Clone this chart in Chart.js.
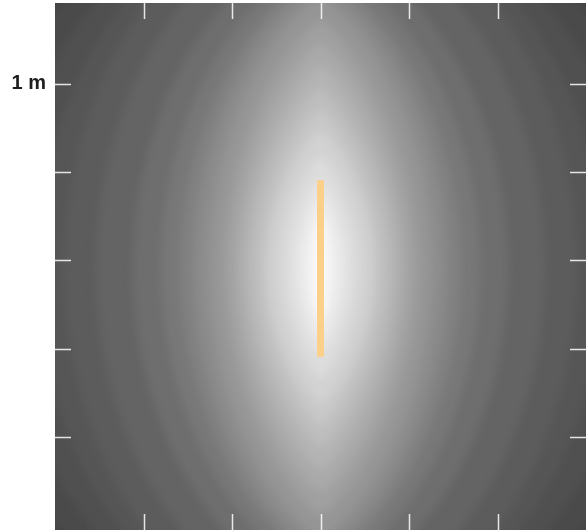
<!DOCTYPE html>
<html>
<head>
<meta charset="utf-8">
<script src="https://cdn.jsdelivr.net/npm/chart.js@4.4.0/dist/chart.umd.min.js"></script>
<style>
  html, body { margin: 0; padding: 0; background: #fff; }
  #wrap { width: 586px; height: 530px; }
</style>
</head>
<body>
<div id="wrap"><canvas id="mycanvas"></canvas></div>
<script>
// luminaire (orange bar), metres
var lampX = [0, 0];
var lampY = [0.455, -0.545];

// tick positions (m) and the only labelled tick
var tickValues = [-1, -0.5, 0, 0.5, 1];
var tickLabels = { 1: '1 m' };

// illuminance bands: grey level, half-width, half-height (m)
// and how pointed each band is at top/bottom (0.5 = ellipse, 1 = lens)
var fieldCenter = [0, -0.04];
var levelGray = [68, 74, 80, 86, 92, 100, 110, 120, 130, 140, 150, 160, 170, 180, 190, 200, 210, 220, 230, 240, 250];
var levelRx = [2.25, 2.0, 1.8, 1.6, 1.45, 1.27, 1.06, 0.9, 0.79, 0.71, 0.63, 0.55, 0.49, 0.44, 0.39, 0.33, 0.29, 0.22, 0.16, 0.1, 0.04];
var levelRy = [2.4, 2.2, 2.12, 2.08, 2.03, 1.95, 1.82, 1.72, 1.66, 1.6, 1.52, 1.4, 1.27, 1.15, 1.02, 0.9, 0.78, 0.64, 0.5, 0.38, 0.28];
var levelPoint = [0.5, 0.5, 0.5, 0.5, 0.5, 0.55, 0.6, 0.65, 0.7, 0.72, 0.75, 0.8, 0.8, 0.85, 0.85, 0.85, 0.85, 0.85, 0.85, 0.8, 0.7];

var fieldPlugin = {
  id: 'field',
  beforeDatasetsDraw: function(chart) {
    var ctx = chart.ctx, a = chart.chartArea;
    var xs = chart.scales.x, ys = chart.scales.y;
    var cx = xs.getPixelForValue(fieldCenter[0]);
    var cy = ys.getPixelForValue(fieldCenter[1]);
    var kx = xs.getPixelForValue(1) - xs.getPixelForValue(0);
    var ky = ys.getPixelForValue(0) - ys.getPixelForValue(1);
    ctx.save();
    ctx.beginPath();
    ctx.rect(a.left, a.top, a.right - a.left, a.bottom - a.top);
    ctx.clip();
    ctx.fillStyle = 'rgb(64,64,64)';
    ctx.fillRect(a.left - 20, a.top - 20, a.right - a.left + 40, a.bottom - a.top + 40);
    ctx.filter = 'blur(5px)';
    for (var i = 0; i < levelGray.length; i++) {
      var g = levelGray[i];
      var rx = levelRx[i] * kx, ry = levelRy[i] * ky, p = levelPoint[i] * 2;
      ctx.fillStyle = 'rgb(' + g + ',' + g + ',' + g + ')';
      ctx.beginPath();
      for (var k = 0; k <= 180; k++) {
        var th = k / 180 * Math.PI * 2;
        var c = Math.cos(th);
        var px = cx + rx * (c < 0 ? -1 : 1) * Math.pow(Math.abs(c), p);
        var py = cy + ry * Math.sin(th);
        if (k === 0) ctx.moveTo(px, py); else ctx.lineTo(px, py);
      }
      ctx.closePath();
      ctx.fill();
    }
    ctx.restore();
  },
  afterDatasetsDraw: function(chart) {
    var ctx = chart.ctx, a = chart.chartArea;
    var xs = chart.scales.x, ys = chart.scales.y;
    var len = 16;
    ctx.save();
    ctx.strokeStyle = 'rgba(255,255,255,0.85)';
    ctx.lineWidth = 1.5;
    ctx.beginPath();
    tickValues.forEach(function(v) {
      var px = Math.round(xs.getPixelForValue(v)) + 0.5;
      ctx.moveTo(px, a.top);
      ctx.lineTo(px, a.top + len);
      ctx.moveTo(px, a.bottom);
      ctx.lineTo(px, a.bottom - len);
      var py = Math.round(ys.getPixelForValue(v)) + 0.5;
      ctx.moveTo(a.left - 1, py);
      ctx.lineTo(a.left + len, py);
      ctx.moveTo(a.right, py);
      ctx.lineTo(a.right - len, py);
    });
    ctx.stroke();
    ctx.restore();
  }
};

var points = lampX.map(function(x, i) { return { x: x, y: lampY[i] }; });

var ctx = document.getElementById('mycanvas');
var chart = new Chart(ctx, {
  type: 'scatter',
  data: {
    datasets: [
      {
        label: 'lamp',
        data: points,
        showLine: true,
        borderColor: '#fdd089',
        borderWidth: 7,
        borderCapStyle: 'butt',
        pointRadius: 0,
        pointHoverRadius: 0
      }
    ]
  },
  options: {
    responsive: true,
    maintainAspectRatio: false,
    animation: false,
    events: [],
    layout: { padding: { top: 3, left: 0, right: 0, bottom: 0 } },
    plugins: { legend: { display: false }, tooltip: { enabled: false } },
    scales: {
      x: { type: 'linear', min: -1.5, max: 1.5, display: false },
      y: {
        type: 'linear',
        min: -1.526,
        max: 1.458,
        grid: { display: false, drawTicks: false },
        border: { display: false },
        ticks: {
          stepSize: 0.5,
          includeBounds: false,
          padding: 9,
          color: '#1e1e1e',
          font: { family: 'Liberation Sans', size: 20, weight: 'bold' },
          callback: function(value) { return tickLabels[value] || null; }
        },
        afterFit: function(scale) {
          scale.width = 55;
          scale.paddingTop = 0;
          scale.paddingBottom = 0;
        }
      }
    }
  },
  plugins: [fieldPlugin]
});
</script>
</body>
</html>
